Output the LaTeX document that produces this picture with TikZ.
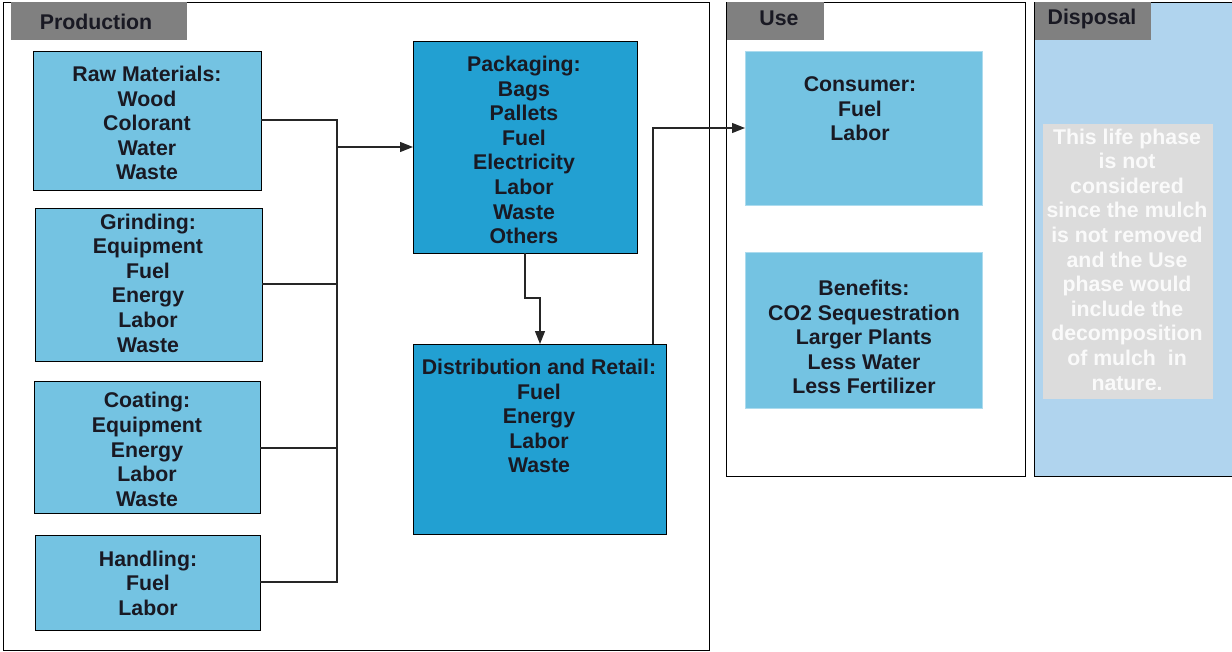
\documentclass[tikz,border=0pt]{standalone}
\usepackage{fontspec}
\setmainfont{Liberation Sans}
\usetikzlibrary{arrows.meta}
\definecolor{lblue}{RGB}{116,195,226}
\definecolor{dblue}{RGB}{34,160,210}
\definecolor{dispbg}{RGB}{176,212,238}
\definecolor{hdrgrey}{RGB}{128,128,128}
\definecolor{notegrey}{RGB}{220,220,220}
\definecolor{txt}{RGB}{25,25,35}
\tikzset{
  frame/.style={draw=black, line width=1pt},
  hdr/.style={fill=hdrgrey, draw=none},
  hdrtxt/.style={font=\bfseries\fontsize{21.3}{24}\selectfont, text=txt, inner sep=0pt},
  lbox/.style={draw=black, line width=1pt, fill=lblue},
  dbox/.style={draw=black, line width=1pt, fill=dblue},
  ubox/.style={draw=lblue!60!white, line width=0.6pt, fill=lblue},
  btxt/.style={font=\bfseries\fontsize{21.3}{24.6}\selectfont, text=txt, align=center, inner sep=0pt},
  conn/.style={draw=black!85, line width=1.3pt},
  arr/.style={conn, -{Triangle[length=13pt,width=10pt]}},
}
\begin{document}
\begin{tikzpicture}[x=1pt,y=-1pt]
\useasboundingbox (0,0) rectangle (1232,651);
% frames
\draw[frame] (3,2) rectangle (709,650);
\draw[frame] (726,2) rectangle (1025,476);
\draw[frame, fill=dispbg] (1034,2) rectangle (1232,476);
% header tabs
\fill[hdr] (11,2) rectangle (187,40);
\node[hdrtxt] (hprod) at (96,22) {Production};
\fill[hdr] (727,2) rectangle (824,40);
\node[hdrtxt] (huse) at (779,18) {Use};
\fill[hdr] (1035,2) rectangle (1151,40);
\node[hdrtxt] (hdisp) at (1092,19) {Disposal};
% production boxes
\path[lbox] (33,51) rectangle (261,190);
\path[lbox] (35,208) rectangle (262,361);
\path[lbox] (34,381) rectangle (260,513);
\path[lbox] (35,535) rectangle (260,630);
\path[dbox] (413,41) rectangle (637,253);
\path[dbox] (413,344) rectangle (666,534);
\coordinate (rawR) at (261,120);
\coordinate (grinR) at (262,284);
\coordinate (coatR) at (260,448);
\coordinate (handR) at (260,582);
\coordinate (packL) at (413,147);
\coordinate (packB) at (525,253);
\coordinate (distT) at (540,344);
\coordinate (distT2) at (653,344);
\coordinate (consL) at (745,128);
\node[btxt] (raw) at (147,123) {Raw Materials:\\Wood\\Colorant\\Water\\Waste};
\node[btxt] (grin) at (148,283) {Grinding:\\Equipment\\Fuel\\Energy\\Labor\\Waste};
\node[btxt] (coat) at (147,449.5) {Coating:\\Equipment\\Energy\\Labor\\Waste};
\node[btxt] (hand) at (148,583) {Handling:\\Fuel\\Labor};
\node[btxt] (pack) at (524,150) {Packaging:\\Bags\\Pallets\\Fuel\\Electricity\\Labor\\Waste\\Others};
\node[btxt] (dist) at (539,416) {Distribution and Retail:\\Fuel\\Energy\\Labor\\Waste};
% use boxes
\path[ubox] (745,51) rectangle (982,205);
\path[ubox] (745,252) rectangle (982,408);
\node[btxt] (cons) at (860,109) {Consumer:\\Fuel\\Labor};
\node[btxt] (bene) at (864,337) {Benefits:\\CO2 Sequestration\\Larger Plants\\Less Water\\Less Fertilizer};
% disposal note
\fill[notegrey] (1043,124) rectangle (1213,399);
\node[btxt, text=white!96!gray] (note) at (1127,259.5) {This life phase\\is not\\considered\\since the mulch\\is not removed\\and the Use\\phase would\\include the\\decomposition\\of mulch\ \ in\\nature.};
% connectors
\draw[conn] (rawR) -- (337,120) -- (337,582) -- (handR);
\draw[conn] (grinR) -- (337,284);
\draw[conn] (coatR) -- (337,448);
\draw[arr] (337,147) -- (packL);
\draw[arr] (packB) -- (525,298) -- (540,298) -- (distT);
\draw[arr] (distT2) -- (653,128) -- (consL);
\end{tikzpicture}
\end{document}
